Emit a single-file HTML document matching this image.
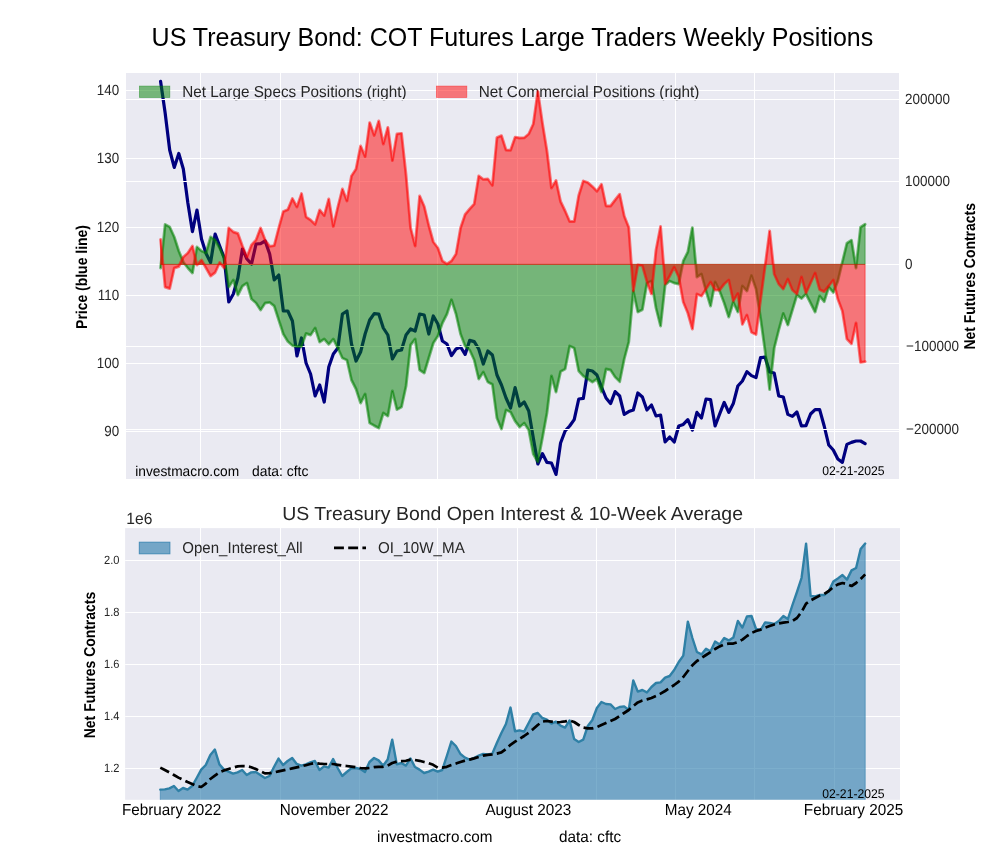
<!DOCTYPE html>
<html lang="en">
<head>
<meta charset="utf-8">
<title>US Treasury Bond: COT Futures Large Traders Weekly Positions</title>
<style>
html,body{margin:0;padding:0;background:#fff;}
body{width:1000px;height:860px;overflow:hidden;}
svg{display:block;}
text{font-family:"Liberation Sans", sans-serif;}
</style>
</head>
<body>
<svg width="1000" height="860" viewBox="0 0 1000 860">
<rect x="0" y="0" width="1000" height="860" fill="#ffffff"/>
<defs><clipPath id="c1"><rect x="126.0" y="73.0" width="773" height="406"/></clipPath><clipPath id="c2"><rect x="125.1" y="528.1" width="774.9" height="271.7"/></clipPath></defs>
<g id="top-chart">
<rect x="126.0" y="73.0" width="773" height="406" fill="#eaeaf2"/>
<g stroke="#ffffff" stroke-width="1.05" clip-path="url(#c1)">
<line x1="200.5" y1="73.0" x2="200.5" y2="479.0"/><line x1="280.5" y1="73.0" x2="280.5" y2="479.0"/><line x1="359.5" y1="73.0" x2="359.5" y2="479.0"/><line x1="437.5" y1="73.0" x2="437.5" y2="479.0"/><line x1="517.5" y1="73.0" x2="517.5" y2="479.0"/><line x1="596.5" y1="73.0" x2="596.5" y2="479.0"/><line x1="675.5" y1="73.0" x2="675.5" y2="479.0"/><line x1="754.5" y1="73.0" x2="754.5" y2="479.0"/><line x1="834.5" y1="73.0" x2="834.5" y2="479.0"/><line x1="126.0" y1="90.5" x2="899.0" y2="90.5"/><line x1="126.0" y1="158.5" x2="899.0" y2="158.5"/><line x1="126.0" y1="227.5" x2="899.0" y2="227.5"/><line x1="126.0" y1="295.5" x2="899.0" y2="295.5"/><line x1="126.0" y1="363.5" x2="899.0" y2="363.5"/><line x1="126.0" y1="431.5" x2="899.0" y2="431.5"/>
</g>
<path d="M160.6 81.4 L165.15 113 L169.69 150 L174.24 167.4 L178.78 153.4 L183.33 169 L187.87 203 L192.42 231.6 L196.96 210 L201.51 239 L206.05 253.5 L210.6 262.5 L215.14 234 L219.69 246 L224.23 258 L228.78 302 L233.32 294 L237.87 278 L242.41 249 L246.96 259 L251.5 264 L256.05 244 L260.59 243.6 L265.14 241 L269.68 254 L274.23 280 L278.77 275 L283.32 311 L287.86 311 L292.41 321 L296.95 356 L301.5 338 L306.05 363 L310.59 374 L315.14 396 L319.68 385 L324.23 402 L328.77 367 L333.32 354 L337.86 348 L342.41 314 L346.95 311 L351.5 344 L356.04 361 L360.59 352 L365.13 334 L369.68 320 L374.22 313.6 L378.77 314 L383.31 328 L387.86 335 L392.4 359 L396.95 351 L401.49 350 L406.04 335 L410.58 329 L415.13 331 L419.67 314 L424.22 315 L428.76 334 L433.31 316 L437.85 324 L442.4 341 L446.95 344 L451.49 355.6 L456.04 349 L460.58 347 L465.13 354.4 L469.67 340.4 L474.22 341.6 L478.76 349 L483.31 364 L487.85 351 L492.4 355 L496.94 375 L501.49 385 L506.03 398 L510.58 408 L515.12 387.6 L519.67 406 L524.21 402 L528.76 411 L533.3 438 L537.85 464 L542.39 453.6 L546.94 462.4 L551.48 463 L556.03 474.4 L560.57 443 L565.12 431 L569.66 426 L574.21 419.6 L578.75 399 L583.3 398.4 L587.85 370 L592.39 371 L596.94 375 L601.48 387 L606.03 398 L610.57 403.6 L615.12 391.6 L619.66 396 L624.21 414.4 L628.75 411.6 L633.3 410 L637.84 393 L642.39 397 L646.93 410 L651.48 405 L656.02 416 L660.57 415 L665.11 442 L669.66 437 L674.2 442 L678.75 426 L683.29 424.4 L687.84 419.6 L692.38 430 L696.93 412.4 L701.47 418 L706.02 399 L710.56 399.6 L715.11 426 L719.65 414 L724.2 402.4 L728.75 412.4 L733.29 403.6 L737.84 386 L742.38 381 L746.93 371.6 L751.47 375.6 L756.02 377.6 L760.56 357.6 L765.11 357.2 L769.65 372 L774.2 373 L778.74 396 L783.29 397 L787.83 414.4 L792.38 416.4 L796.92 412 L801.47 426 L806.01 425.6 L810.56 414 L815.1 409.6 L819.65 409.6 L824.19 426 L828.74 445 L833.28 450 L837.83 459 L842.37 462.4 L846.92 444.4 L851.46 442.4 L856.01 441 L860.55 441 L865.1 443.6" fill="none" stroke="#00007f" stroke-width="3.2" stroke-linejoin="round" stroke-linecap="round" clip-path="url(#c1)"/>
<g id="legend1">
<rect x="139.3" y="86" width="30.6" height="11.6" fill="#008000" fill-opacity="0.5" stroke="#008000" stroke-opacity="0.5" stroke-width="0.6"/>
<text transform="translate(182.3,97) skewX(0.05) scale(1,1.04)" font-size="15.3" fill="#262626" textLength="224.3" lengthAdjust="spacingAndGlyphs">Net Large Specs Positions (right)</text>
<rect x="436.3" y="86" width="30.6" height="11.6" fill="#ff0000" fill-opacity="0.5" stroke="#ff0000" stroke-opacity="0.5" stroke-width="0.6"/>
<text transform="translate(478.7,97) skewX(0.05) scale(1,1.04)" font-size="15.3" fill="#262626" textLength="220.7" lengthAdjust="spacingAndGlyphs">Net Commercial Positions (right)</text>
</g>
<g stroke="#ffffff" stroke-width="1.05">
<line x1="126.0" y1="99.5" x2="899.0" y2="99.5"/><line x1="126.0" y1="181.5" x2="899.0" y2="181.5"/><line x1="126.0" y1="264.5" x2="899.0" y2="264.5"/><line x1="126.0" y1="346.5" x2="899.0" y2="346.5"/><line x1="126.0" y1="429.5" x2="899.0" y2="429.5"/>
</g>
<g clip-path="url(#c1)">
<path d="M160.6 268 L165.15 224.5 L169.69 227 L174.24 237 L178.78 251 L183.33 262 L187.87 268 L192.42 273 L196.96 247 L201.51 251 L206.05 253 L210.6 237 L215.14 240 L219.69 248 L224.23 258 L228.78 287 L233.32 280 L237.87 295 L242.41 286 L246.96 283 L251.5 299 L256.05 303 L260.59 310 L265.14 303 L269.68 302.4 L274.23 306 L278.77 320 L283.32 334 L287.86 341.5 L292.41 345.5 L296.95 346.5 L301.5 346.5 L306.05 333.5 L310.59 335 L315.14 328 L319.68 342 L324.23 339 L328.77 344.2 L333.32 339 L337.86 348 L342.41 358 L346.95 360 L351.5 380 L356.04 389 L360.59 403 L365.13 394 L369.68 423 L374.22 425.6 L378.77 428 L383.31 413 L387.86 416 L392.4 391 L396.95 409.6 L401.49 407 L406.04 386 L410.58 345 L415.13 339 L419.67 370 L424.22 373 L428.76 358 L433.31 343 L437.85 336 L442.4 323 L446.95 314 L451.49 299.8 L456.04 314 L460.58 334 L465.13 346 L469.67 350 L474.22 360 L478.76 379 L483.31 372 L487.85 382 L492.4 384.4 L496.94 418 L501.49 429 L506.03 410 L510.58 412 L515.12 421 L519.67 427 L524.21 423 L528.76 430 L533.3 454 L537.85 462 L542.39 438 L546.94 413 L551.48 376 L556.03 392 L560.57 371.6 L565.12 369 L569.66 346 L574.21 348 L578.75 371 L583.3 376 L587.85 379 L592.39 382 L596.94 379 L601.48 392 L606.03 369 L610.57 370 L615.12 377 L619.66 381.6 L624.21 359 L628.75 342 L633.3 291 L637.84 312 L642.39 309.6 L646.93 283 L651.48 281 L656.02 308 L660.57 326 L665.11 285 L669.66 281 L674.2 283 L678.75 284 L683.29 261 L687.84 252 L692.38 227.6 L696.93 277 L701.47 274 L706.02 291 L710.56 306 L715.11 282 L719.65 291 L724.2 303 L728.75 317 L733.29 302 L737.84 312 L742.38 286 L746.93 291 L751.47 275.6 L756.02 289 L760.56 318 L765.11 351 L769.65 389.6 L774.2 348 L778.74 330 L783.29 313.5 L787.83 325 L792.38 310 L796.92 295 L801.47 298.4 L806.01 294 L810.56 303 L815.1 312 L819.65 296 L824.19 301.6 L828.74 287 L833.28 292.4 L837.83 281 L842.37 262 L846.92 243.3 L851.46 240.2 L856.01 268 L860.55 227.3 L865.1 224.2 L865.1 264.4 L160.6 264.4 Z" fill="#008000" fill-opacity="0.5" stroke="#008000" stroke-opacity="0.5" stroke-width="1"/>
<path d="M160.6 268 L165.15 224.5 L169.69 227 L174.24 237 L178.78 251 L183.33 262 L187.87 268 L192.42 273 L196.96 247 L201.51 251 L206.05 253 L210.6 237 L215.14 240 L219.69 248 L224.23 258 L228.78 287 L233.32 280 L237.87 295 L242.41 286 L246.96 283 L251.5 299 L256.05 303 L260.59 310 L265.14 303 L269.68 302.4 L274.23 306 L278.77 320 L283.32 334 L287.86 341.5 L292.41 345.5 L296.95 346.5 L301.5 346.5 L306.05 333.5 L310.59 335 L315.14 328 L319.68 342 L324.23 339 L328.77 344.2 L333.32 339 L337.86 348 L342.41 358 L346.95 360 L351.5 380 L356.04 389 L360.59 403 L365.13 394 L369.68 423 L374.22 425.6 L378.77 428 L383.31 413 L387.86 416 L392.4 391 L396.95 409.6 L401.49 407 L406.04 386 L410.58 345 L415.13 339 L419.67 370 L424.22 373 L428.76 358 L433.31 343 L437.85 336 L442.4 323 L446.95 314 L451.49 299.8 L456.04 314 L460.58 334 L465.13 346 L469.67 350 L474.22 360 L478.76 379 L483.31 372 L487.85 382 L492.4 384.4 L496.94 418 L501.49 429 L506.03 410 L510.58 412 L515.12 421 L519.67 427 L524.21 423 L528.76 430 L533.3 454 L537.85 462 L542.39 438 L546.94 413 L551.48 376 L556.03 392 L560.57 371.6 L565.12 369 L569.66 346 L574.21 348 L578.75 371 L583.3 376 L587.85 379 L592.39 382 L596.94 379 L601.48 392 L606.03 369 L610.57 370 L615.12 377 L619.66 381.6 L624.21 359 L628.75 342 L633.3 291 L637.84 312 L642.39 309.6 L646.93 283 L651.48 281 L656.02 308 L660.57 326 L665.11 285 L669.66 281 L674.2 283 L678.75 284 L683.29 261 L687.84 252 L692.38 227.6 L696.93 277 L701.47 274 L706.02 291 L710.56 306 L715.11 282 L719.65 291 L724.2 303 L728.75 317 L733.29 302 L737.84 312 L742.38 286 L746.93 291 L751.47 275.6 L756.02 289 L760.56 318 L765.11 351 L769.65 389.6 L774.2 348 L778.74 330 L783.29 313.5 L787.83 325 L792.38 310 L796.92 295 L801.47 298.4 L806.01 294 L810.56 303 L815.1 312 L819.65 296 L824.19 301.6 L828.74 287 L833.28 292.4 L837.83 281 L842.37 262 L846.92 243.3 L851.46 240.2 L856.01 268 L860.55 227.3 L865.1 224.2" fill="none" stroke="#008000" stroke-opacity="0.5" stroke-width="2.9" stroke-linejoin="round" stroke-linecap="round"/>
<path d="M160.6 239.5 L165.15 287 L169.69 288.5 L174.24 268 L178.78 266.5 L183.33 257 L187.87 253 L192.42 246 L196.96 265 L201.51 260 L206.05 268 L210.6 276 L215.14 272.5 L219.69 262.5 L224.23 268 L228.78 228 L233.32 232 L237.87 233.5 L242.41 246 L246.96 257 L251.5 245 L256.05 240 L260.59 228 L265.14 240 L269.68 246.4 L274.23 245.6 L278.77 228 L283.32 211.6 L287.86 209.6 L292.41 198.6 L296.95 207 L301.5 193.6 L306.05 217 L310.59 220 L315.14 224.4 L319.68 210 L324.23 215.6 L328.77 199 L333.32 226.4 L337.86 207 L342.41 189 L346.95 201 L351.5 176 L356.04 169 L360.59 146 L365.13 156.6 L369.68 122.6 L374.22 135.4 L378.77 121 L383.31 144 L387.86 127.4 L392.4 160.6 L396.95 134 L401.49 133.4 L406.04 175 L410.58 228 L415.13 246 L419.67 196 L424.22 206.5 L428.76 225.5 L433.31 242 L437.85 248 L442.4 261 L446.95 264 L451.49 261 L456.04 254 L460.58 228 L465.13 214.5 L469.67 209 L474.22 204 L478.76 176 L483.31 179.4 L487.85 179 L492.4 185.4 L496.94 137.7 L501.49 135.7 L506.03 150 L510.58 150.3 L515.12 137.2 L519.67 138 L524.21 137.8 L528.76 134 L533.3 124 L537.85 91.5 L542.39 123 L546.94 151 L551.48 188 L556.03 180.6 L560.57 201.5 L565.12 211 L569.66 221.5 L574.21 221.5 L578.75 195.5 L583.3 181 L587.85 182.6 L592.39 186.6 L596.94 191.2 L601.48 184.4 L606.03 206 L610.57 206 L615.12 200 L619.66 194.2 L624.21 216 L628.75 227.5 L633.3 291 L637.84 265 L642.39 265.6 L646.93 281.6 L651.48 294 L656.02 250 L660.57 226.5 L665.11 284 L669.66 276 L674.2 267 L678.75 277 L683.29 302 L687.84 313 L692.38 329 L696.93 294 L701.47 296 L706.02 289 L710.56 282 L715.11 290 L719.65 290 L724.2 284 L728.75 280 L733.29 301 L737.84 293.6 L742.38 324.4 L746.93 315 L751.47 332.2 L756.02 334.4 L760.56 300 L765.11 266 L769.65 231 L774.2 274 L778.74 284 L783.29 289 L787.83 279 L792.38 290 L796.92 294 L801.47 277 L806.01 293 L810.56 283 L815.1 273 L819.65 289.6 L824.19 291.6 L828.74 286 L833.28 280 L837.83 299 L842.37 311 L846.92 339 L851.46 343.8 L856.01 323 L860.55 362.4 L865.1 361.6 L865.1 264.4 L160.6 264.4 Z" fill="#ff0000" fill-opacity="0.5" stroke="#ff0000" stroke-opacity="0.5" stroke-width="1"/>
<path d="M160.6 239.5 L165.15 287 L169.69 288.5 L174.24 268 L178.78 266.5 L183.33 257 L187.87 253 L192.42 246 L196.96 265 L201.51 260 L206.05 268 L210.6 276 L215.14 272.5 L219.69 262.5 L224.23 268 L228.78 228 L233.32 232 L237.87 233.5 L242.41 246 L246.96 257 L251.5 245 L256.05 240 L260.59 228 L265.14 240 L269.68 246.4 L274.23 245.6 L278.77 228 L283.32 211.6 L287.86 209.6 L292.41 198.6 L296.95 207 L301.5 193.6 L306.05 217 L310.59 220 L315.14 224.4 L319.68 210 L324.23 215.6 L328.77 199 L333.32 226.4 L337.86 207 L342.41 189 L346.95 201 L351.5 176 L356.04 169 L360.59 146 L365.13 156.6 L369.68 122.6 L374.22 135.4 L378.77 121 L383.31 144 L387.86 127.4 L392.4 160.6 L396.95 134 L401.49 133.4 L406.04 175 L410.58 228 L415.13 246 L419.67 196 L424.22 206.5 L428.76 225.5 L433.31 242 L437.85 248 L442.4 261 L446.95 264 L451.49 261 L456.04 254 L460.58 228 L465.13 214.5 L469.67 209 L474.22 204 L478.76 176 L483.31 179.4 L487.85 179 L492.4 185.4 L496.94 137.7 L501.49 135.7 L506.03 150 L510.58 150.3 L515.12 137.2 L519.67 138 L524.21 137.8 L528.76 134 L533.3 124 L537.85 91.5 L542.39 123 L546.94 151 L551.48 188 L556.03 180.6 L560.57 201.5 L565.12 211 L569.66 221.5 L574.21 221.5 L578.75 195.5 L583.3 181 L587.85 182.6 L592.39 186.6 L596.94 191.2 L601.48 184.4 L606.03 206 L610.57 206 L615.12 200 L619.66 194.2 L624.21 216 L628.75 227.5 L633.3 291 L637.84 265 L642.39 265.6 L646.93 281.6 L651.48 294 L656.02 250 L660.57 226.5 L665.11 284 L669.66 276 L674.2 267 L678.75 277 L683.29 302 L687.84 313 L692.38 329 L696.93 294 L701.47 296 L706.02 289 L710.56 282 L715.11 290 L719.65 290 L724.2 284 L728.75 280 L733.29 301 L737.84 293.6 L742.38 324.4 L746.93 315 L751.47 332.2 L756.02 334.4 L760.56 300 L765.11 266 L769.65 231 L774.2 274 L778.74 284 L783.29 289 L787.83 279 L792.38 290 L796.92 294 L801.47 277 L806.01 293 L810.56 283 L815.1 273 L819.65 289.6 L824.19 291.6 L828.74 286 L833.28 280 L837.83 299 L842.37 311 L846.92 339 L851.46 343.8 L856.01 323 L860.55 362.4 L865.1 361.6" fill="none" stroke="#ff0000" stroke-opacity="0.5" stroke-width="2.9" stroke-linejoin="round" stroke-linecap="round"/>
</g>
<g id="yticks-left">
<text transform="translate(119.1,95.3) skewX(0.05) scale(1,1.1)" font-size="13.4" fill="#262626" text-anchor="end">140</text>
<text transform="translate(119.1,163.3) skewX(0.05) scale(1,1.1)" font-size="13.4" fill="#262626" text-anchor="end">130</text>
<text transform="translate(119.1,232.3) skewX(0.05) scale(1,1.1)" font-size="13.4" fill="#262626" text-anchor="end">120</text>
<text transform="translate(119.1,300.3) skewX(0.05) scale(1,1.1)" font-size="13.4" fill="#262626" text-anchor="end">110</text>
<text transform="translate(119.1,368.3) skewX(0.05) scale(1,1.1)" font-size="13.4" fill="#262626" text-anchor="end">100</text>
<text transform="translate(119.1,436.3) skewX(0.05) scale(1,1.1)" font-size="13.4" fill="#262626" text-anchor="end">90</text>
</g>
<g id="yticks-right">
<text transform="translate(905,104.2) skewX(0.05) scale(1,1.1)" font-size="13.5" fill="#262626">200000</text>
<text transform="translate(905,186.2) skewX(0.05) scale(1,1.1)" font-size="13.5" fill="#262626">100000</text>
<text transform="translate(905,269.2) skewX(0.05) scale(1,1.1)" font-size="13.5" fill="#262626">0</text>
<text transform="translate(906.1,351.2) skewX(0.05) scale(1,1.1)" font-size="13.5" fill="#262626">−100000</text>
<text transform="translate(906.1,434.2) skewX(0.05) scale(1,1.1)" font-size="13.5" fill="#262626">−200000</text>
</g>
<text transform="translate(86.9,277) rotate(-90) skewX(0.05) scale(1,1.13)" font-size="13.95" fill="#000" text-anchor="middle" font-weight="bold">Price (blue line)</text>
<text transform="translate(975.2,276.3) rotate(-90) skewX(0.05) scale(1,1.13)" font-size="13.95" fill="#000" text-anchor="middle" font-weight="bold">Net Futures Contracts</text>
<text transform="translate(135.2,476) skewX(0.05) scale(1,1.04)" font-size="13.7" fill="#000" textLength="104" lengthAdjust="spacingAndGlyphs">investmacro.com</text>
<text transform="translate(252,476) skewX(0.05) scale(1,1.04)" font-size="13.9" fill="#000">data: cftc</text>
<text transform="translate(884.6,475.4) skewX(0.05) scale(1,1.04)" font-size="12.2" fill="#000" text-anchor="end">02-21-2025</text>
</g>
<text x="512.4" y="46" text-anchor="middle" font-size="25" fill="#000">US Treasury Bond: COT Futures Large Traders Weekly Positions</text>
<g id="bottom-chart">
<rect x="125.1" y="528.1" width="774.9" height="271.7" fill="#eaeaf2"/>
<g stroke="#ffffff" stroke-width="1.05" clip-path="url(#c2)">
<line x1="200.5" y1="528.1" x2="200.5" y2="799.8"/><line x1="280.5" y1="528.1" x2="280.5" y2="799.8"/><line x1="359.5" y1="528.1" x2="359.5" y2="799.8"/><line x1="437.5" y1="528.1" x2="437.5" y2="799.8"/><line x1="517.5" y1="528.1" x2="517.5" y2="799.8"/><line x1="596.5" y1="528.1" x2="596.5" y2="799.8"/><line x1="675.5" y1="528.1" x2="675.5" y2="799.8"/><line x1="754.5" y1="528.1" x2="754.5" y2="799.8"/><line x1="834.5" y1="528.1" x2="834.5" y2="799.8"/><line x1="125.1" y1="560.5" x2="900.0" y2="560.5"/><line x1="125.1" y1="612.5" x2="900.0" y2="612.5"/><line x1="125.1" y1="664.5" x2="900.0" y2="664.5"/><line x1="125.1" y1="716.5" x2="900.0" y2="716.5"/><line x1="125.1" y1="768.5" x2="900.0" y2="768.5"/>
</g>
<g clip-path="url(#c2)">
<path d="M160.3 789.6 L164.85 789.4 L169.4 788.4 L173.94 786 L178.49 791 L183.04 788 L187.59 789.6 L192.13 786 L196.68 778 L201.23 769.6 L205.78 765 L210.33 755 L214.87 749.6 L219.42 764.4 L223.97 769.6 L228.52 771.6 L233.06 773.6 L237.61 772.4 L242.16 770 L246.71 775 L251.25 772.4 L255.8 772 L260.35 775 L264.9 778 L269.45 776 L273.99 767 L278.54 758.6 L283.09 765 L287.64 761 L292.18 758 L296.73 764 L301.28 765.6 L305.83 764.4 L310.38 762.4 L314.92 761 L319.47 770 L324.02 766.4 L328.57 767.6 L333.11 759 L337.66 768 L342.21 776 L346.76 772 L351.31 768.4 L355.85 768 L360.4 769 L364.95 772 L369.5 762 L374.04 758 L378.59 760.4 L383.14 765.6 L387.69 759.6 L392.23 739.6 L396.78 764.4 L401.33 763 L405.88 765.6 L410.43 758.4 L414.97 767 L419.52 769.6 L424.07 773 L428.62 771.6 L433.16 769.6 L437.71 771.6 L442.26 770 L446.81 756 L451.36 741.6 L455.9 746 L460.45 754 L465 757.6 L469.55 759.6 L474.09 758 L478.64 755.6 L483.19 754 L487.74 754.4 L492.29 753.6 L496.83 743 L501.38 733 L505.93 724 L510.48 707.6 L515.02 731.3 L519.57 730.4 L524.12 731.6 L528.67 723 L533.21 714.4 L537.76 713 L542.31 718 L546.86 719.6 L551.41 723.6 L555.95 721.6 L560.5 725.6 L565.05 727.6 L569.6 720.4 L574.14 739 L578.69 742 L583.24 739.6 L587.79 726 L592.34 720 L596.88 708 L601.43 702 L605.98 704 L610.53 704.4 L615.07 709 L619.62 707 L624.17 706.4 L628.72 710 L633.27 680.4 L637.81 691.6 L642.36 690 L646.91 692.4 L651.46 687 L656 683 L660.55 682.4 L665.1 677.6 L669.65 676 L674.19 670 L678.74 662 L683.29 655.6 L687.84 621.6 L692.39 638 L696.93 652 L701.48 654.4 L706.03 648.7 L710.58 651.3 L715.12 641.6 L719.67 644.4 L724.22 638 L728.77 640.4 L733.32 637.6 L737.86 621 L742.41 627.6 L746.96 616.4 L751.51 616 L756.05 629 L760.6 630 L765.15 622.4 L769.7 623 L774.25 624 L778.79 621 L783.34 616 L787.89 619 L792.44 605 L796.98 592 L801.53 578 L806.08 543.6 L810.63 596 L815.17 596.4 L819.72 595 L824.27 595 L828.82 591 L833.37 581.6 L837.91 578.4 L842.46 575 L847.01 579.6 L851.56 570.4 L856.1 568 L860.65 549 L865.2 543.6 L865.2 804.8 L160.3 804.8 Z" fill="#2f7eae" fill-opacity="0.63" stroke="#2f7eae" stroke-opacity="0.6" stroke-width="1"/>
<path d="M160.3 789.6 L164.85 789.4 L169.4 788.4 L173.94 786 L178.49 791 L183.04 788 L187.59 789.6 L192.13 786 L196.68 778 L201.23 769.6 L205.78 765 L210.33 755 L214.87 749.6 L219.42 764.4 L223.97 769.6 L228.52 771.6 L233.06 773.6 L237.61 772.4 L242.16 770 L246.71 775 L251.25 772.4 L255.8 772 L260.35 775 L264.9 778 L269.45 776 L273.99 767 L278.54 758.6 L283.09 765 L287.64 761 L292.18 758 L296.73 764 L301.28 765.6 L305.83 764.4 L310.38 762.4 L314.92 761 L319.47 770 L324.02 766.4 L328.57 767.6 L333.11 759 L337.66 768 L342.21 776 L346.76 772 L351.31 768.4 L355.85 768 L360.4 769 L364.95 772 L369.5 762 L374.04 758 L378.59 760.4 L383.14 765.6 L387.69 759.6 L392.23 739.6 L396.78 764.4 L401.33 763 L405.88 765.6 L410.43 758.4 L414.97 767 L419.52 769.6 L424.07 773 L428.62 771.6 L433.16 769.6 L437.71 771.6 L442.26 770 L446.81 756 L451.36 741.6 L455.9 746 L460.45 754 L465 757.6 L469.55 759.6 L474.09 758 L478.64 755.6 L483.19 754 L487.74 754.4 L492.29 753.6 L496.83 743 L501.38 733 L505.93 724 L510.48 707.6 L515.02 731.3 L519.57 730.4 L524.12 731.6 L528.67 723 L533.21 714.4 L537.76 713 L542.31 718 L546.86 719.6 L551.41 723.6 L555.95 721.6 L560.5 725.6 L565.05 727.6 L569.6 720.4 L574.14 739 L578.69 742 L583.24 739.6 L587.79 726 L592.34 720 L596.88 708 L601.43 702 L605.98 704 L610.53 704.4 L615.07 709 L619.62 707 L624.17 706.4 L628.72 710 L633.27 680.4 L637.81 691.6 L642.36 690 L646.91 692.4 L651.46 687 L656 683 L660.55 682.4 L665.1 677.6 L669.65 676 L674.19 670 L678.74 662 L683.29 655.6 L687.84 621.6 L692.39 638 L696.93 652 L701.48 654.4 L706.03 648.7 L710.58 651.3 L715.12 641.6 L719.67 644.4 L724.22 638 L728.77 640.4 L733.32 637.6 L737.86 621 L742.41 627.6 L746.96 616.4 L751.51 616 L756.05 629 L760.6 630 L765.15 622.4 L769.7 623 L774.25 624 L778.79 621 L783.34 616 L787.89 619 L792.44 605 L796.98 592 L801.53 578 L806.08 543.6 L810.63 596 L815.17 596.4 L819.72 595 L824.27 595 L828.82 591 L833.37 581.6 L837.91 578.4 L842.46 575 L847.01 579.6 L851.56 570.4 L856.1 568 L860.65 549 L865.2 543.6" fill="none" stroke="#2f80a6" stroke-width="2.4" stroke-linejoin="round" stroke-linecap="round"/>
<path d="M160.3 767.6 L164.85 770 L169.4 772.4 L173.94 775 L178.49 777.6 L183.04 779.8 L187.59 782 L192.13 784 L196.68 786 L201.23 787 L205.78 783.6 L210.33 779 L214.87 775.6 L219.42 772.4 L223.97 770.4 L228.52 769 L233.06 767.6 L237.61 766.4 L242.16 766 L246.71 766.2 L251.25 767.2 L255.8 769 L260.35 771.2 L264.9 773.4 L269.45 773.2 L273.99 772.4 L278.54 771.4 L283.09 770.4 L287.64 769.4 L292.18 768.4 L296.73 767.4 L301.28 766.4 L305.83 765.2 L310.38 764 L314.92 763 L319.47 763.6 L324.02 764 L328.57 764 L333.11 764 L337.66 764.8 L342.21 765.6 L346.76 766 L351.31 766.6 L355.85 767.2 L360.4 768 L364.95 768.4 L369.5 768 L374.04 767.2 L378.59 766.8 L383.14 766.8 L387.69 765.6 L392.23 763 L396.78 761.6 L401.33 761.2 L405.88 760.8 L410.43 759.6 L414.97 760 L419.52 760.8 L424.07 762 L428.62 763.2 L433.16 764.8 L437.71 767.6 L442.26 767.6 L446.81 766.8 L451.36 765 L455.9 763.6 L460.45 762 L465 760.6 L469.55 759.6 L474.09 758.4 L478.64 757 L483.19 755.6 L487.74 754.8 L492.29 754.4 L496.83 753.6 L501.38 752.4 L505.93 749 L510.48 744.8 L515.02 741.7 L519.57 738.8 L524.12 736 L528.67 732.7 L533.21 729 L537.76 725 L542.31 721.6 L546.86 721 L551.41 721.6 L555.95 722.4 L560.5 722 L565.05 721.4 L569.6 720.6 L574.14 722 L578.69 725 L583.24 727.6 L587.79 728.4 L592.34 728.4 L596.88 727.2 L601.43 725 L605.98 723 L610.53 721 L615.07 719 L619.62 716 L624.17 713 L628.72 710 L633.27 706 L637.81 702.4 L642.36 700.6 L646.91 699.4 L651.46 698 L656 696 L660.55 693.6 L665.1 691 L669.65 688 L674.19 685 L678.74 681.6 L683.29 677 L687.84 671 L692.39 665.3 L696.93 661 L701.48 658 L706.03 655 L710.58 652.2 L715.12 649 L719.67 646.4 L724.22 644.4 L728.77 643.6 L733.32 643.6 L737.86 642 L742.41 639.6 L746.96 636 L751.51 633 L756.05 631 L760.6 629.6 L765.15 627.6 L769.7 626 L774.25 624.4 L778.79 623.4 L783.34 622.6 L787.89 622 L792.44 621 L796.98 618 L801.53 612 L806.08 603.6 L810.63 600.4 L815.17 598 L819.72 595.6 L824.27 594 L828.82 591 L833.37 587 L837.91 584.4 L842.46 583 L847.01 584 L851.56 586 L856.1 583 L860.65 579 L865.2 574.4" fill="none" stroke="#000" stroke-width="2.7" stroke-dasharray="9.9 4.3" stroke-linejoin="round"/>
</g>
<g id="legend2">
<rect x="139.3" y="542.2" width="30.6" height="11.6" fill="#2f7eae" fill-opacity="0.63" stroke="#2f7eae" stroke-opacity="0.8" stroke-width="1"/>
<text transform="translate(182.3,553.3) skewX(0.05) scale(1,1.04)" font-size="15.1" fill="#262626" textLength="120.4" lengthAdjust="spacingAndGlyphs">Open_Interest_All</text>
<line x1="334" y1="547.8" x2="366" y2="547.8" stroke="#000" stroke-width="2.7" stroke-dasharray="9.9 4.3"/>
<text transform="translate(378,553.3) skewX(0.05) scale(1,1.04)" font-size="15.1" fill="#262626" textLength="86.8" lengthAdjust="spacingAndGlyphs">OI_10W_MA</text>
</g>
<g id="yticks-bottom">
<text transform="translate(119.4,563.8) skewX(0.05) scale(1,1.08)" font-size="11.1" fill="#262626" text-anchor="end">2.0</text>
<text transform="translate(119.4,615.8) skewX(0.05) scale(1,1.08)" font-size="11.1" fill="#262626" text-anchor="end">1.8</text>
<text transform="translate(119.4,667.8) skewX(0.05) scale(1,1.08)" font-size="11.1" fill="#262626" text-anchor="end">1.6</text>
<text transform="translate(119.4,719.8) skewX(0.05) scale(1,1.08)" font-size="11.1" fill="#262626" text-anchor="end">1.4</text>
<text transform="translate(119.4,771.8) skewX(0.05) scale(1,1.08)" font-size="11.1" fill="#262626" text-anchor="end">1.2</text>
</g>
<text transform="translate(126.3,523.6) skewX(0.05) scale(1,1.04)" font-size="15.6" fill="#262626">1e6</text>
<text transform="translate(94.9,665) rotate(-90) skewX(0.05) scale(1,1.13)" font-size="13.95" fill="#000" text-anchor="middle" font-weight="bold">Net Futures Contracts</text>
<text transform="translate(282.2,520) skewX(0.05) scale(1,1.0)" font-size="19.0" fill="#262626" textLength="460.8" lengthAdjust="spacingAndGlyphs">US Treasury Bond Open Interest &amp; 10-Week Average</text>
<g id="xticks">
<text transform="translate(171.6,814.9) skewX(0.05) scale(1,1.04)" font-size="15.3" fill="#000" text-anchor="middle">February 2022</text>
<text transform="translate(334.2,814.9) skewX(0.05) scale(1,1.04)" font-size="15.3" fill="#000" text-anchor="middle">November 2022</text>
<text transform="translate(528.3,814.9) skewX(0.05) scale(1,1.04)" font-size="15.3" fill="#000" text-anchor="middle">August 2023</text>
<text transform="translate(698.2,814.9) skewX(0.05) scale(1,1.04)" font-size="15.3" fill="#000" text-anchor="middle">May 2024</text>
<text transform="translate(853.5,814.9) skewX(0.05) scale(1,1.04)" font-size="15.3" fill="#000" text-anchor="middle">February 2025</text>
</g>
<text transform="translate(884.6,797.6) skewX(0.05) scale(1,1.04)" font-size="12.2" fill="#000" text-anchor="end">02-21-2025</text>
<text transform="translate(377,842) skewX(0.05) scale(1,1.04)" font-size="15.3" fill="#000">investmacro.com</text>
<text transform="translate(559,842) skewX(0.05) scale(1,1.04)" font-size="15.3" fill="#000">data: cftc</text>
</g>
</svg>
</body>
</html>
